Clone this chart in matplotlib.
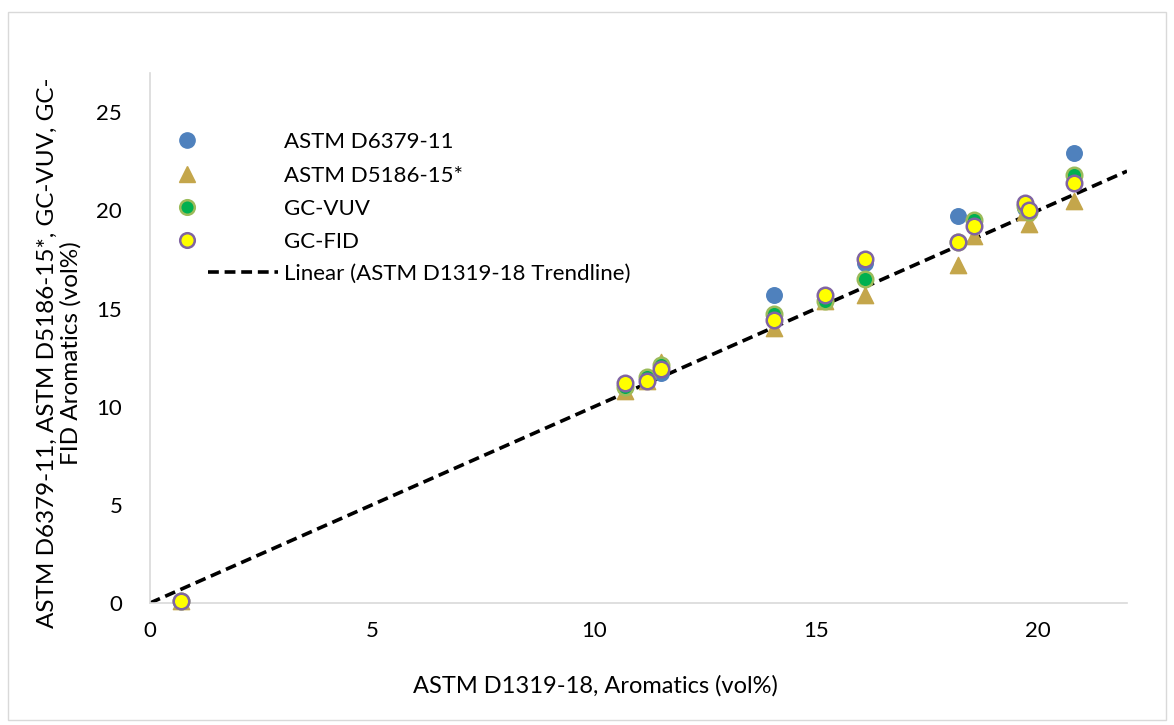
import matplotlib
matplotlib.use("Agg")
import matplotlib.pyplot as plt
from matplotlib.lines import Line2D
from matplotlib.patches import Rectangle

# ---- data ----
d1319 = [0.7, 10.7, 11.2, 11.5, 14.05, 15.2, 16.1, 18.2, 18.55, 19.7, 19.8, 20.8]
d6379 = [0.1, 11.0, 11.4, 11.7, 15.7, 15.5, 17.3, 19.7, 19.3, 20.1, 19.9, 22.9]
d5186 = [0.1, 10.8, 11.3, 12.3, 14.0, 15.4, 15.7, 17.2, 18.7, 19.9, 19.3, 20.5]
gcvuv = [0.1, 11.0, 11.5, 12.1, 14.7, 15.4, 16.5, 18.4, 19.5, 20.2, 19.9, 21.8]
gcfid = [0.1, 11.2, 11.3, 11.9, 14.4, 15.7, 17.5, 18.4, 19.2, 20.4, 20.0, 21.4]
trend_x = [0, 22]
trend_y = [0, 22]
xticks = [0, 5, 10, 15, 20]
yticks = [0, 5, 10, 15, 20, 25]

series_labels = ["ASTM D6379-11", "ASTM D5186-15*", "GC-VUV", "GC-FID"]
trend_label = "Linear (ASTM D1319-18 Trendline)"

plt.rcParams['font.family'] = ['Lato', 'DejaVu Sans']

W, H = 1174, 725
fig = plt.figure(figsize=(W / 100, H / 100), dpi=100)
fig.patches.append(Rectangle((8 / W, 5 / H), (W - 16) / W, (H - 17) / H,
                             transform=fig.transFigure, fill=False,
                             edgecolor='#D9D9D9', linewidth=1))

ax = fig.add_axes([150 / W, (H - 603) / H, 977 / W, 530 / H])
ax.set_xlim(0, 22)
ax.set_ylim(0, 27)
ax.set_xticks(xticks)
ax.set_yticks(yticks)
for s in ['top', 'right']:
    ax.spines[s].set_visible(False)
for s in ['left', 'bottom']:
    ax.spines[s].set_color('#D9D9D9')
    ax.spines[s].set_linewidth(1.2)
ax.tick_params(axis='both', length=0, labelsize=16, labelcolor='#000000')
ax.tick_params(axis='y', pad=20)
ax.tick_params(axis='x', pad=13)

ms = 125
ax.plot(trend_x, trend_y, linestyle=(0, (3, 1.6)), color='black', linewidth=2.6, zorder=2)
ax.scatter(d1319, d6379, s=ms, marker='o', color='#4F81BD', edgecolors='#4F81BD', zorder=3, clip_on=False)
ax.scatter(d1319, d5186, s=ms * 1.1, marker='^', color='#C4A64B', edgecolors='#C4A64B', zorder=4, clip_on=False)
ax.scatter(d1319, gcvuv, s=ms, marker='o', color='#00B050', edgecolors='#9BBB59', linewidths=1.8, zorder=5, clip_on=False)
ax.scatter(d1319, gcfid, s=ms, marker='o', color='#FFFF00', edgecolors='#8064A2', linewidths=1.8, zorder=6, clip_on=False)

ax.set_xlabel("ASTM D1319-18, Aromatics (vol%)", fontsize=17)
ax.xaxis.label.set_va('center')
ax.xaxis.set_label_coords((595 - 150) / 977, (603 - 686) / 530)
ax.set_ylabel("ASTM D6379-11, ASTM D5186-15*, GC-VUV, GC-\nFID Aromatics (vol%)",
              fontsize=17.5, linespacing=1.15)
ax.yaxis.label.set_va('center')
ax.yaxis.label.set_ha('center')
ax.yaxis.set_label_coords((59 - 150) / 977, (603 - 353) / 530)

# ---- legend (one entry per box to mimic Excel layout) ----
fs = 16
fs_px = fs * 100 / 72
handles = [
    Line2D([], [], linestyle='none', marker='o', markersize=11, color='#4F81BD'),
    Line2D([], [], linestyle='none', marker='^', markersize=11.5, color='#C4A64B'),
    Line2D([], [], linestyle='none', marker='o', markersize=10.5, markerfacecolor='#00B050',
           markeredgecolor='#9BBB59', markeredgewidth=1.8),
    Line2D([], [], linestyle='none', marker='o', markersize=10.5, markerfacecolor='#FFFF00',
           markeredgecolor='#8064A2', markeredgewidth=1.8),
]
rows_y = [142, 176, 209, 242]
for h, lab, yy in zip(handles, series_labels, rows_y):
    left = 187 - 0.5 * fs_px
    fig.legend(handles=[h], labels=[lab], loc='center left',
               bbox_to_anchor=(left / W, 1 - yy / H), frameon=False,
               fontsize=fs, handlelength=1.0, handletextpad=(284 - 187 - 0.5 * fs_px) / fs_px,
               borderpad=0, borderaxespad=0)
line_h = Line2D([], [], linestyle=(0, (3, 1.6)), color='black', linewidth=2.6)
fig.legend(handles=[line_h], labels=[trend_label], loc='center left',
           bbox_to_anchor=(208 / W, 1 - 274 / H), frameon=False,
           fontsize=fs, handlelength=70 / fs_px, handletextpad=6 / fs_px,
           borderpad=0, borderaxespad=0)

fig.savefig("out.png", dpi=100)
